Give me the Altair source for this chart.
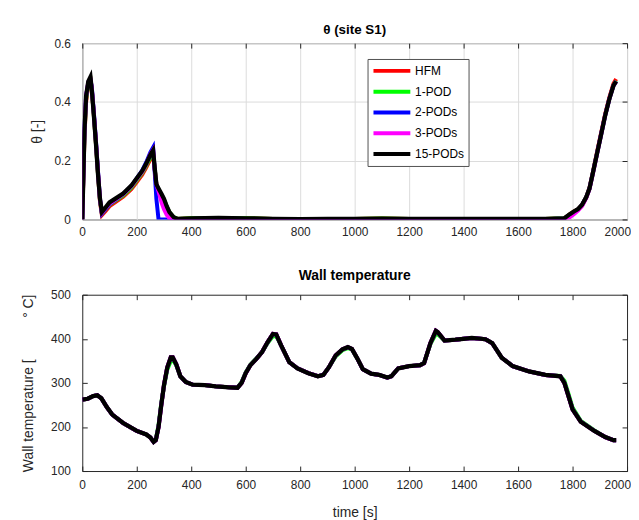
import altair as alt
import pandas as pd

# ---------------- data ----------------
SERIES = ["HFM", "1-POD", "2-PODs", "3-PODs", "15-PODs"]
COLORS = ["#ff0000", "#00ff00", "#0000ff", "#ff00ff", "#000000"]

theta_t = [0, 4, 8, 14, 22, 30, 35, 42, 50, 58,
           65, 72, 85, 100, 120, 150, 180, 200, 220, 235,
           250, 260, 266, 272, 280, 286, 292, 300, 310, 320,
           335, 350, 400, 500, 600, 700, 800, 900, 1000, 1100,
           1200, 1300, 1400, 1500, 1600, 1700, 1770, 1790, 1805, 1820,
           1835, 1850, 1862, 1875, 1890, 1905, 1920, 1935, 1950, 1960]

theta_15pods = [0, 0.15, 0.3, 0.42, 0.47, 0.485, 0.44, 0.36, 0.26, 0.15,
                0.07, 0.025, 0.04, 0.058, 0.07, 0.088, 0.115, 0.14, 0.165, 0.19,
                0.22, 0.235, 0.175, 0.12, 0.105, 0.095, 0.085, 0.07, 0.045, 0.025,
                0.008, 0.002, 0.004, 0.005, 0.004, 0.002, 0.001, 0.002, 0.002, 0.003,
                0.002, 0.002, 0.002, 0.002, 0.002, 0.002, 0.004, 0.018, 0.027, 0.035,
                0.05, 0.075, 0.105, 0.16, 0.225, 0.29, 0.355, 0.41, 0.455, 0.47]

theta_hfm = [0, 0.14, 0.28, 0.4, 0.46, 0.478, 0.44, 0.36, 0.26, 0.15,
             0.06, 0.015, 0.028, 0.045, 0.058, 0.077, 0.103, 0.127, 0.152, 0.177,
             0.205, 0.22, 0.17, 0.12, 0.1, 0.09, 0.08, 0.066, 0.042, 0.023,
             0.007, 0.002, 0.004, 0.005, 0.004, 0.002, 0.001, 0.002, 0.002, 0.003,
             0.002, 0.002, 0.002, 0.002, 0.002, 0.002, 0.004, 0.018, 0.027, 0.035,
             0.05, 0.076, 0.107, 0.163, 0.23, 0.295, 0.36, 0.415, 0.462, 0.478]

theta_1pod = [0, 0.15, 0.29, 0.41, 0.465, 0.48, 0.44, 0.36, 0.26, 0.15,
              0.065, 0.02, 0.034, 0.05, 0.063, 0.082, 0.108, 0.133, 0.158, 0.183,
              0.212, 0.227, 0.172, 0.12, 0.102, 0.092, 0.082, 0.068, 0.044, 0.024,
              0.008, 0.002, 0.004, 0.005, 0.004, 0.002, 0.001, 0.002, 0.002, 0.003,
              0.002, 0.002, 0.002, 0.002, 0.002, 0.002, 0.004, 0.017, 0.026, 0.034,
              0.049, 0.075, 0.105, 0.16, 0.226, 0.29, 0.356, 0.41, 0.456, 0.472]

theta_2pods = [0, 0.16, 0.31, 0.42, 0.465, 0.475, 0.45, 0.37, 0.27, 0.16,
               0.07, 0.02, 0.035, 0.052, 0.066, 0.086, 0.113, 0.14, 0.167, 0.195,
               0.228, 0.245, 0.16, 0.07, 0.0, 0.0, 0.0, 0.0, 0.0, 0.0,
               0.0, 0.0, 0.002, 0.003, 0.002, 0.001, 0.0, 0.001, 0.001, 0.001,
               0.001, 0.001, 0.001, 0.001, 0.001, 0.001, 0.003, 0.016, 0.025, 0.034,
               0.05, 0.075, 0.105, 0.16, 0.225, 0.29, 0.355, 0.41, 0.455, 0.47]

theta_3pods = [0, 0.15, 0.3, 0.42, 0.468, 0.48, 0.445, 0.365, 0.265, 0.155,
               0.068, 0.022, 0.037, 0.054, 0.067, 0.086, 0.112, 0.137, 0.162, 0.187,
               0.222, 0.237, 0.17, 0.12, 0.095, 0.075, 0.055, 0.035, 0.015, 0.004,
               0.0, 0.0, 0.002, 0.003, 0.002, 0.001, 0.0, 0.001, 0.001, 0.001,
               0.001, 0.001, 0.001, 0.001, 0.001, 0.001, 0.002, 0.008, 0.018, 0.03,
               0.045, 0.072, 0.103, 0.158, 0.224, 0.29, 0.355, 0.41, 0.455, 0.47]

wall_t = [0, 20, 40, 55, 70, 90, 110, 150, 200, 235,
          250, 262, 270, 280, 290, 300, 312, 325, 332, 345,
          360, 380, 405, 450, 490, 540, 570, 585, 600, 617,
          640, 660, 680, 700, 712, 730, 760, 790, 830, 865,
          885, 905, 930, 955, 975, 990, 1010, 1030, 1060, 1090,
          1120, 1135, 1160, 1200, 1240, 1255, 1278, 1298, 1305, 1330,
          1370, 1400, 1430, 1480, 1505, 1540, 1580, 1640, 1700, 1755,
          1770, 1785, 1800, 1830, 1880, 1920, 1950, 1960]

wall_15pods = [262, 264, 270, 272, 265, 245, 228, 209, 191, 183,
               176, 166, 170, 200, 250, 295, 335, 358, 358, 342,
               315, 302, 296, 295, 292, 290, 289, 300, 322, 340,
               355, 370, 392, 411, 410, 385, 347, 333, 322, 315,
               318, 335, 362, 376, 381, 377, 355, 331, 321, 318,
               312, 315, 333, 338, 340, 345, 390, 418, 415, 396,
               398, 400, 402, 399, 390, 357, 338, 326, 318, 315,
               300, 270, 240, 212, 191, 177, 170, 170]

wall_1pod = [262, 264, 270, 272, 265, 245, 228, 209, 191, 183,
             176, 167, 172, 204, 254, 292, 330, 350, 352, 340,
             315, 302, 296, 295, 292, 290, 289, 302, 324, 341,
             356, 370, 390, 406, 406, 385, 347, 333, 322, 315,
             318, 335, 360, 374, 379, 376, 355, 331, 321, 318,
             312, 315, 333, 338, 340, 346, 388, 411, 410, 396,
             398, 400, 402, 399, 390, 357, 338, 326, 318, 316,
             305, 275, 244, 214, 192, 177, 170, 170]

wall_hfm = wall_15pods
wall_2pods = wall_15pods
wall_3pods = wall_15pods

x_ticks = [0, 200, 400, 600, 800, 1000, 1200, 1400, 1600, 1800, 2000]
theta_ticks = [0, 0.2, 0.4, 0.6]
wall_ticks = [100, 200, 300, 400, 500]


def long_df(t, named):
    rows = []
    for name, vals in named:
        for tt, v in zip(t, vals):
            rows.append({"t": tt, "v": v, "series": name})
    return pd.DataFrame(rows)


theta_colored = long_df(theta_t, [("HFM", theta_hfm), ("1-POD", theta_1pod),
                                  ("2-PODs", theta_2pods), ("3-PODs", theta_3pods)])
theta_black = long_df(theta_t, [("15-PODs", theta_15pods)])
wall_colored = long_df(wall_t, [("HFM", wall_hfm), ("1-POD", wall_1pod),
                                ("2-PODs", wall_2pods), ("3-PODs", wall_3pods)])
wall_black = long_df(wall_t, [("15-PODs", wall_15pods)])

# ---------------- style ----------------
FONT = "Liberation Sans"
AX = "#262626"
W, H = 550, 178
NB = "\u00a0"

color_scale = alt.Scale(domain=SERIES, range=COLORS)
x_scale = alt.Scale(domain=[0, 2000], nice=False)
theta_scale = alt.Scale(domain=[0, 0.6], nice=False)
wall_scale = alt.Scale(domain=[100, 500], nice=False)

legend = alt.Legend(
    title=None, orient="none", legendX=288, legendY=16,
    symbolType="M-1,0H5.2", symbolSize=144, symbolStrokeWidth=4,
    labelFont=FONT, labelFontSize=12, labelColor="#000000",
    padding=4, rowPadding=5, labelOffset=28, labelLimit=200,
    strokeColor="#505050", fillColor="#ffffff",
    labelExpr="datum.label + '" + NB * 20 + "'",
)

lab = dict(labelFont=FONT, labelFontSize=12, labelColor=AX,
           titleFont=FONT, titleFontSize=14, titleFontWeight="normal", titleColor=AX)

tick_only = dict(labels=False, grid=False, domain=False, ticks=True, tickSize=5,
                 offset=-5, tickColor=AX, title=None)


def layered(colored, black, yscale, yticks, bottom_axis, left_axis, show_legend):
    leg = legend if show_legend else None
    l1 = alt.Chart(colored).mark_line(strokeWidth=4, clip=True).encode(
        x=alt.X("t:Q", scale=x_scale, axis=bottom_axis),
        y=alt.Y("v:Q", scale=yscale, axis=left_axis),
        color=alt.Color("series:N", scale=color_scale, legend=leg),
    )
    l2 = alt.Chart(black).mark_line(strokeWidth=4.3, clip=True).encode(
        x=alt.X("t:Q", scale=x_scale,
                axis=alt.Axis(orient="top", values=x_ticks, **tick_only)),
        y=alt.Y("v:Q", scale=yscale,
                axis=alt.Axis(orient="right", values=yticks, **tick_only)),
        color=alt.Color("series:N", scale=color_scale, legend=leg),
    )
    return alt.layer(l1, l2).resolve_axis(x="independent", y="independent")


top = layered(
    theta_colored, theta_black, theta_scale, theta_ticks,
    alt.Axis(orient="bottom", values=x_ticks, format="d", grid=True, gridColor="#dcdcdc",
             ticks=False, tickSize=0, domain=False, labelPadding=7,
             labelFlush=True, labelFlushOffset=3.5, title=None, **lab),
    alt.Axis(orient="left", values=theta_ticks, format="~g", grid=True, gridColor="#dcdcdc",
             ticks=False, tickSize=0, domain=False, labelPadding=12,
             title="θ [-]", titlePadding=9, **lab),
    True,
).properties(
    width=W, height=H,
    title=alt.TitleParams("θ (site S1)", font=FONT, fontSize=13.5, fontWeight="bold",
                          color="#000000", offset=1, anchor="middle", frame="group"),
)

bottom = layered(
    wall_colored, wall_black, wall_scale, wall_ticks,
    alt.Axis(orient="bottom", values=x_ticks, format="d", grid=False, ticks=True, tickSize=5,
             offset=-5, tickColor=AX, domain=False, labelPadding=9,
             labelFlush=True, labelFlushOffset=3.5,
             title="time [s]", titlePadding=15, **lab),
    alt.Axis(orient="left", values=wall_ticks, format="d", grid=False, ticks=True, tickSize=5,
             offset=-5, tickColor=AX, domain=False, labelPadding=12,
             title="Wall temperature [\u2003\u2003\u2003°" + NB + "C]", titlePadding=15, **lab),
    False,
).properties(
    width=W, height=H,
    title=alt.TitleParams("Wall temperature", font=FONT, fontSize=14, fontWeight="bold",
                          color="#000000", offset=6, anchor="middle", frame="group"),
)

chart = alt.vconcat(top, bottom, spacing=30).resolve_scale(
    color="independent"
).resolve_legend(color="independent").properties(
    padding={"left": 13, "top": 12, "right": 0, "bottom": 0},
    background="#ffffff",
).configure_view(stroke=AX, strokeWidth=1)

chart.save("out.html", embed_options={"renderer": "svg", "actions": False})
